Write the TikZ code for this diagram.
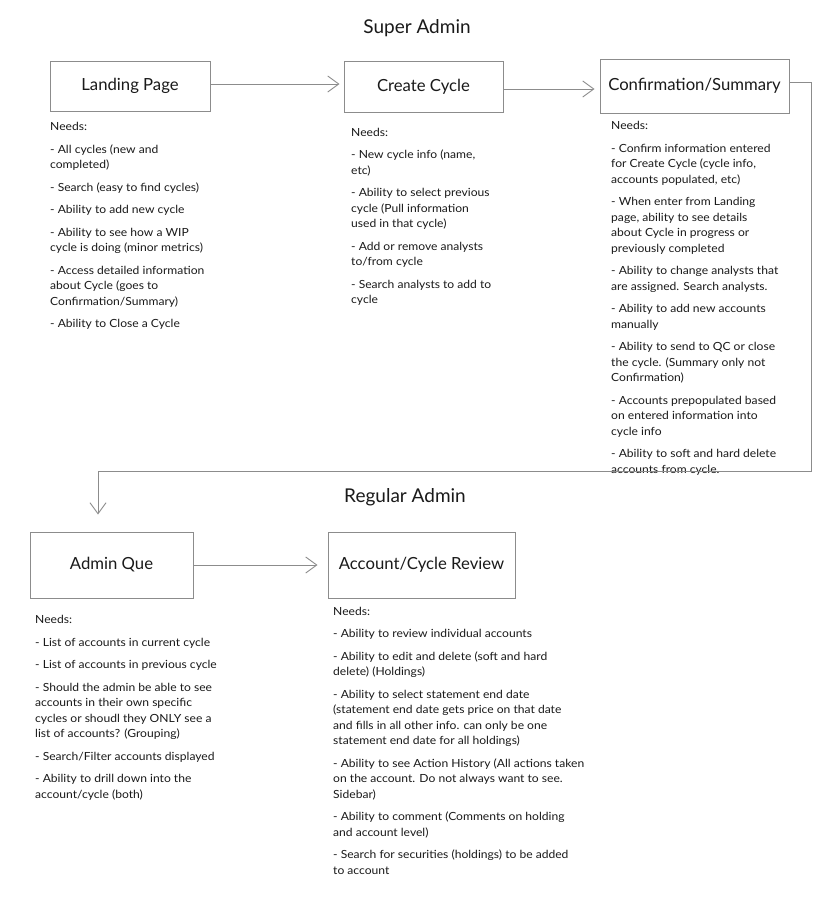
\documentclass[tikz,border=0pt]{standalone}
\usepackage{fontspec}
\setmainfont{Lato}
\newfontfamily\needsfont[FakeStretch=1.08]{Lato}
\usetikzlibrary{arrows.meta}
\definecolor{boxgray}{HTML}{8C8C8C}
\definecolor{textc}{HTML}{1A1A1A}
\begin{document}
\begin{tikzpicture}[x=1pt,y=-1pt,
 box/.style={draw=boxgray, line width=1pt, inner sep=0pt, font=\fontsize{16.7}{19}\selectfont, text=textc},
 arr/.style={draw=boxgray, line width=0.9pt, -{Straight Barb[length=11pt,width=16pt,line width=0.9pt]}},
 needs/.style={anchor=north west, inner sep=0pt, align=left, font=\needsfont\fontsize{11.2}{15.5}\selectfont, text=textc},
 title/.style={font=\fontsize{19}{22}\selectfont, text=textc}]
\useasboundingbox[fill=white] (0,0) rectangle (821,900);

\node[title] (t1) at (417,28) {Super Admin};
\node[title] (t2) at (405,497) {Regular Admin};

\node[box, minimum width=160pt, minimum height=50pt] (lp) at (130,86) {Landing Page\vphantom{g}};
\node[box, minimum width=159pt, minimum height=51pt] (cc) at (423.5,86.5) {Create Cycle\hspace{25pt}};
\node[box, minimum width=189pt, minimum height=54pt] (cs) at (694.5,86) {Confirmation/Summary};
\node[box, minimum width=163pt, minimum height=66pt] (aq) at (111.5,565) {Admin Que\hspace{21pt}};
\node[box, minimum width=187pt, minimum height=66pt] (acr) at (421.5,565) {Account/Cycle Review};

\node[needs] (n1) at (50,122.5) {Needs:\\[7pt]
- All cycles (new and\\ completed)\\[7pt]
- Search (easy to find cycles)\\[7pt]
- Ability to add new cycle\\[7pt]
- Ability to see how a WIP\\ cycle is doing (minor metrics)\\[7pt]
- Access detailed information\\ about Cycle (goes to\\ Confirmation/Summary)\\[7pt]
- Ability to Close a Cycle};

\node[needs] (n2) at (351,128) {Needs:\\[7pt]
- New cycle info (name,\\ etc)\\[7pt]
- Ability to select previous\\ cycle (Pull information\\ used in that cycle)\\[7pt]
- Add or remove analysts\\ to/from cycle\\[7pt]
- Search analysts to add to\\ cycle};

\node[needs] (n3) at (611,121.5) {Needs:\\[7pt]
- Confirm information entered\\ for Create Cycle (cycle info,\\ accounts populated, etc)\\[7pt]
- When enter from Landing\\ page, ability to see details\\ about Cycle in progress or\\ previously completed\\[7pt]
- Ability to change analysts that\\ are assigned. Search analysts.\\[7pt]
- Ability to add new accounts\\ manually\\[7pt]
- Ability to send to QC or close\\ the cycle. (Summary only not\\ Confirmation)\\[7pt]
- Accounts prepopulated based\\ on entered information into\\ cycle info\\[7pt]
- Ability to soft and hard delete\\ accounts from cycle.};

\node[needs] (n4) at (35,615.5) {Needs:\\[7pt]
- List of accounts in current cycle\\[7pt]
- List of accounts in previous cycle\\[7pt]
- Should the admin be able to see\\ accounts in their own specific\\ cycles or shoudl they ONLY see a\\ list of accounts? (Grouping)\\[7pt]
- Search/Filter accounts displayed\\[7pt]
- Ability to drill down into the\\ account/cycle (both)};

\node[needs] (n5) at (333,607) {Needs:\\[7pt]
- Ability to review individual accounts\\[7pt]
- Ability to edit and delete (soft and hard\\ delete) (Holdings)\\[7pt]
- Ability to select statement end date\\ (statement end date gets price on that date\\ and fills in all other info. can only be one\\ statement end date for all holdings)\\[7pt]
- Ability to see Action History (All actions taken\\ on the account. Do not always want to see.\\ Sidebar)\\[7pt]
- Ability to comment (Comments on holding\\ and account level)\\[7pt]
- Search for securities (holdings) to be added\\ to account};

\coordinate (turn) at (811,471);
\coordinate (drop) at (98,471);

\draw[arr, shorten >=4pt] ([yshift=2pt]lp.east) -- ([yshift=2pt]lp.east -| cc.west);
\draw[arr, shorten >=5pt] ([yshift=-2.5pt]cc.east) -- ([yshift=-2.5pt]cc.east -| cs.west);
\draw[arr, shorten >=17pt] ([yshift=4pt]cs.east) -| (turn) -- (drop) -- (drop |- aq.north);
\draw[arr, shorten >=10pt] (aq.east) -- (aq.east -| acr.west);
\end{tikzpicture}
\end{document}
